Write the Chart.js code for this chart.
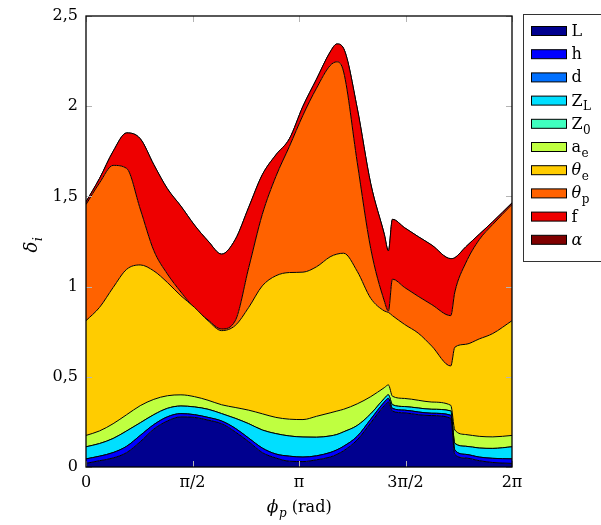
<!DOCTYPE html>
<html>
<head>
<meta charset="utf-8">
<script src="https://cdn.jsdelivr.net/npm/chart.js"></script>
<style>
  html, body { margin: 0; padding: 0; background: #fff; }
  #wrap { width: 601px; height: 525px; position: relative; }
</style>
</head>
<body>
<div id="wrap"><canvas id="deltaChart"></canvas></div>
<script>
// phi_p sample positions (rad); pairs 4.46/4.52 and 5.38/5.44 carry the jumps
const phi = [0, 0.2, 0.4, 0.6, 0.8, 1.0, 1.2, 1.4, 1.6, 1.8, 2.0, 2.2, 2.4, 2.6, 2.8, 3.0, 3.2, 3.4, 3.6, 3.7, 3.8,
             4.0, 4.2, 4.4, 4.46, 4.52, 4.7, 4.9, 5.1, 5.38, 5.44, 5.6, 5.8, 6.0, 6.283];

// top edge of each stacked layer (cumulative delta)
const topL  = [0.02, 0.035, 0.05, 0.08, 0.14, 0.21, 0.255, 0.278, 0.275, 0.26, 0.24, 0.195, 0.14, 0.08, 0.05, 0.032, 0.03, 0.04, 0.055, 0.07, 0.09,
               0.15, 0.245, 0.34, 0.36, 0.31, 0.30, 0.29, 0.285, 0.27, 0.07, 0.05, 0.035, 0.025, 0.02];
const topH  = [0.045, 0.06, 0.08, 0.115, 0.175, 0.235, 0.278, 0.296, 0.29, 0.275, 0.255, 0.215, 0.16, 0.105, 0.072, 0.06, 0.055, 0.062, 0.08, 0.095, 0.115,
               0.17, 0.265, 0.36, 0.38, 0.325, 0.315, 0.305, 0.298, 0.287, 0.094, 0.07, 0.055, 0.048, 0.045];
const topD  = topH;
const topZL = [0.112, 0.13, 0.158, 0.2, 0.245, 0.29, 0.325, 0.338, 0.333, 0.32, 0.296, 0.27, 0.24, 0.205, 0.185, 0.172, 0.166, 0.165, 0.172, 0.18, 0.195,
               0.23, 0.295, 0.38, 0.40, 0.345, 0.335, 0.327, 0.32, 0.311, 0.131, 0.115, 0.105, 0.103, 0.112];
const topZ0 = topZL;
const topAe = [0.175, 0.2, 0.24, 0.29, 0.34, 0.375, 0.395, 0.40, 0.39, 0.37, 0.345, 0.33, 0.315, 0.295, 0.275, 0.265, 0.263, 0.281, 0.30, 0.31, 0.32,
               0.35, 0.39, 0.44, 0.455, 0.392, 0.38, 0.37, 0.36, 0.342, 0.205, 0.18, 0.17, 0.167, 0.175];
const topTe = [0.811, 0.885, 0.995, 1.096, 1.12, 1.087, 1.023, 0.949, 0.885, 0.811, 0.756, 0.784, 0.885, 1.004, 1.06, 1.078, 1.08, 1.11, 1.165, 1.18, 1.185,
               1.085, 0.935, 0.865, 0.857, 0.839, 0.79, 0.742, 0.67, 0.56, 0.664, 0.68, 0.71, 0.74, 0.811];
const topTp = [1.455, 1.575, 1.672, 1.655, 1.43, 1.20, 1.07, 0.97, 0.88, 0.815, 0.765, 0.81, 1.105, 1.40, 1.61, 1.777, 1.95, 2.10, 2.225, 2.246, 2.19,
               1.69, 1.21, 0.92, 0.865, 1.041, 0.995, 0.946, 0.90, 0.839, 0.97, 1.13, 1.26, 1.345, 1.455];
const topF  = [1.47, 1.60, 1.75, 1.852, 1.82, 1.676, 1.543, 1.446, 1.341, 1.253, 1.18, 1.26, 1.44, 1.62, 1.73, 1.82, 2.0, 2.15, 2.30, 2.345, 2.32,
               1.99, 1.57, 1.29, 1.198, 1.373, 1.326, 1.277, 1.23, 1.155, 1.16, 1.22, 1.29, 1.36, 1.464];
const topA  = topF;

const seriesNames  = ['L', 'h', 'd', 'Z_L', 'Z_0', 'a_e', 'θ_e', 'θ_p', 'f', 'α'];
const seriesTops   = [topL, topH, topD, topZL, topZ0, topAe, topTe, topTp, topF, topA];
const seriesColors = ['#00008f', '#0000ff', '#0070ff', '#00dfff', '#40ffbf', '#bfff40', '#ffcc00', '#ff6200', '#ee0000', '#800000'];

const xTickValues = [0, Math.PI / 2, Math.PI, 3 * Math.PI / 2, 2 * Math.PI];
const xTickLabels = ['0', 'π/2', 'π', '3π/2', '2π'];
const yTickValues = [0, 0.5, 1, 1.5, 2, 2.5];

const serif = '"DejaVu Serif", serif';

// draws "a_b" style text with a subscript; greek letters in italic
function drawRich(ctx, label, x, y, size, italicAll) {
  const [main, sub] = label.split('_');
  const greek = /[α-ωϕ]/.test(main);
  ctx.font = ((italicAll || greek) ? 'italic ' : '') + size + 'px ' + serif;
  ctx.fillText(main, x, y);
  let w = ctx.measureText(main).width;
  if (sub) {
    ctx.font = (italicAll ? 'italic ' : '') + Math.round(size * 0.72) + 'px ' + serif;
    ctx.fillText(sub, x + w + 0.5, y + size * 0.3);
    w += ctx.measureText(sub).width + 0.5;
  }
  return w;
}

const decor = {
  id: 'decor',
  afterDraw(chart) {
    const { ctx, chartArea: a, scales } = chart;
    ctx.save();
    // inward grey ticks
    ctx.strokeStyle = '#b4b4b4';
    ctx.lineWidth = 1;
    ctx.beginPath();
    yTickValues.forEach(v => {
      const y = Math.round(scales.y.getPixelForValue(v)) + 0.5;
      ctx.moveTo(a.left, y); ctx.lineTo(a.left + 6, y);
      ctx.moveTo(a.right, y); ctx.lineTo(a.right - 6, y);
    });
    xTickValues.forEach(v => {
      const x = Math.round(scales.x.getPixelForValue(v)) + 0.5;
      ctx.moveTo(x, a.bottom); ctx.lineTo(x, a.bottom - 6);
      ctx.moveTo(x, a.top); ctx.lineTo(x, a.top + 6);
    });
    ctx.stroke();
    // frame
    ctx.strokeStyle = '#000';
    ctx.lineWidth = 1.3;
    ctx.strokeRect(a.left, a.top, a.right - a.left, a.bottom - a.top);

    // axis titles
    ctx.fillStyle = '#000';
    ctx.textBaseline = 'alphabetic';
    ctx.textAlign = 'left';
    ctx.font = 'italic 17px ' + serif;
    const wPhi = ctx.measureText('ϕ').width;
    ctx.font = 'italic 12px ' + serif;
    const wP = ctx.measureText('p').width;
    ctx.font = '16px ' + serif;
    const wRad = ctx.measureText(' (rad)').width;
    let x0 = (a.left + a.right) / 2 - (wPhi + wP + wRad) / 2;
    const w1 = drawRich(ctx, 'ϕ_p', x0, 512, 17, true);
    ctx.font = '16px ' + serif;
    ctx.fillText(' (rad)', x0 + w1, 512);

    ctx.save();
    ctx.translate(37, (a.top + a.bottom) / 2 + 2);
    ctx.rotate(-Math.PI / 2);
    drawRich(ctx, 'δ_i', -9, 0, 18, true);
    ctx.restore();

    // legend box
    const lx = 523.5, ly = 14.5;
    ctx.strokeStyle = '#333';
    ctx.lineWidth = 1;
    ctx.strokeRect(lx, ly, 100, 247);
    seriesNames.forEach((name, i) => {
      const cy = 31 + i * 23.2;
      ctx.fillStyle = seriesColors[i];
      ctx.fillRect(lx + 8, cy - 4.5, 35, 9);
      ctx.strokeStyle = '#000';
      ctx.strokeRect(lx + 8, cy - 4.5, 35, 9);
      ctx.fillStyle = '#000';
      drawRich(ctx, name, lx + 48, cy + 5, 16, false);
    });
    ctx.restore();
  }
};

const datasets = seriesNames.map((name, i) => ({
  label: name,
  data: phi.map((p, k) => ({ x: p, y: seriesTops[i][k] })),
  backgroundColor: seriesColors[i],
  borderColor: '#000',
  borderWidth: 1,
  pointRadius: 0,
  fill: i === 0 ? 'origin' : '-1',
  cubicInterpolationMode: 'monotone'
}));

const ctx = document.getElementById('deltaChart').getContext('2d');
new Chart(ctx, {
  type: 'line',
  data: { datasets: datasets },
  options: {
    responsive: true,
    maintainAspectRatio: false,
    animation: false,
    devicePixelRatio: 1,
    layout: { padding: { left: 0, right: 89, top: 8, bottom: 0 } },
    plugins: { legend: { display: false }, tooltip: { enabled: false } },
    scales: {
      x: {
        type: 'linear',
        min: 0,
        max: 2 * Math.PI,
        grid: { display: false, drawTicks: false },
        border: { display: false },
        afterBuildTicks: scale => { scale.ticks = xTickValues.map(v => ({ value: v })); },
        afterFit: scale => { scale.height = 58; },
        ticks: {
          padding: 6,
          maxRotation: 0,
          color: '#000',
          font: { family: serif, size: 16 },
          callback: (v, i) => xTickLabels[i]
        }
      },
      y: {
        min: 0,
        max: 2.5,
        grid: { display: false, drawTicks: false },
        border: { display: false },
        afterBuildTicks: scale => { scale.ticks = yTickValues.map(v => ({ value: v })); },
        afterFit: scale => { scale.width = 86; },
        ticks: {
          padding: 8,
          color: '#000',
          font: { family: serif, size: 16, lineHeight: 1 },
          callback: v => String(v).replace('.', ',')
        }
      }
    }
  },
  plugins: [decor]
});
</script>
</body>
</html>
